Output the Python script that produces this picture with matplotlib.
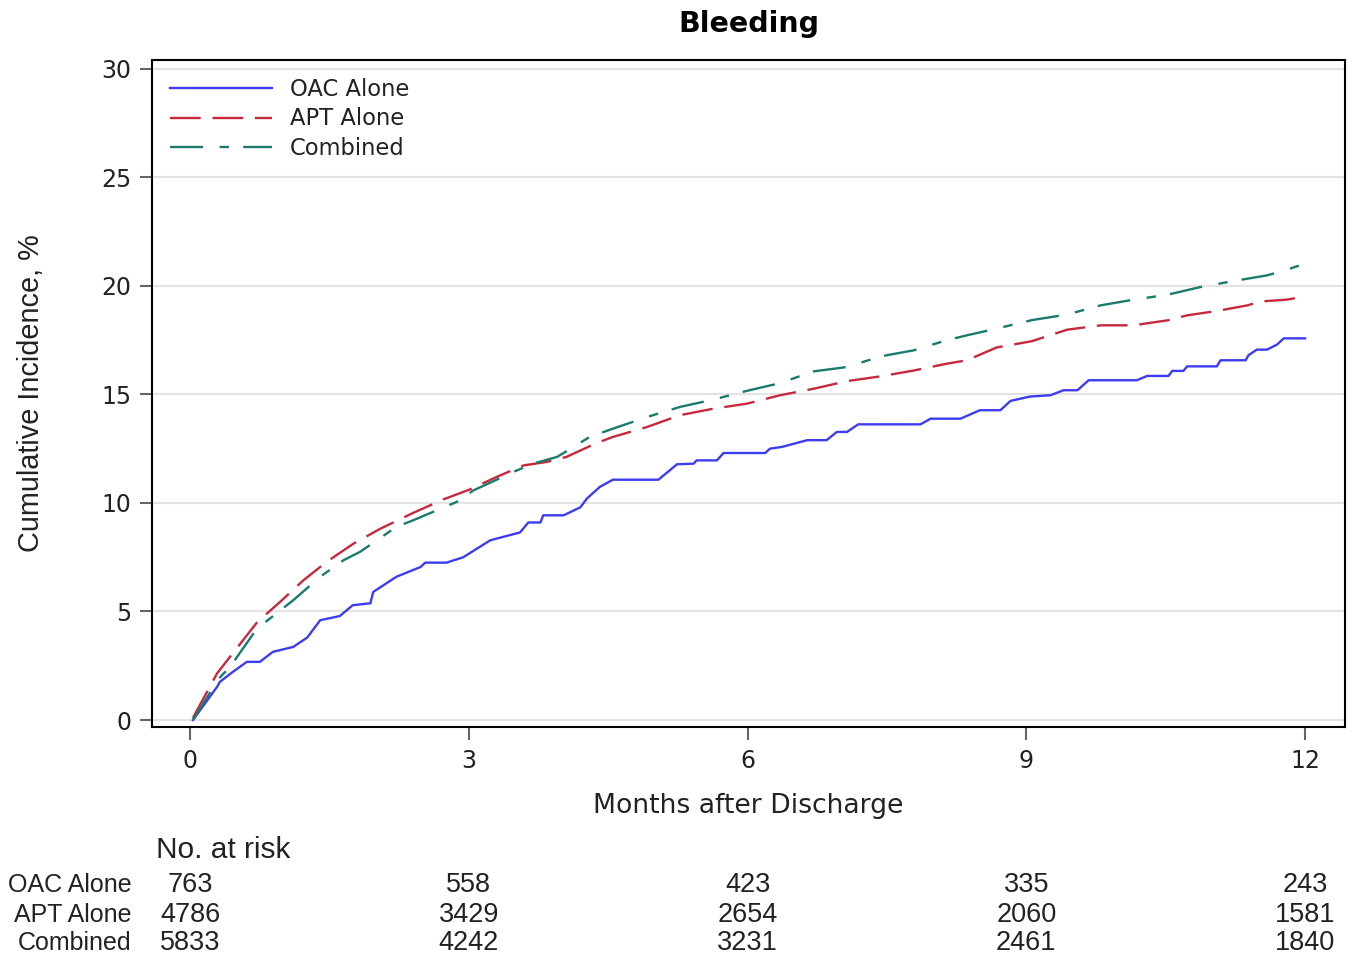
import matplotlib
matplotlib.use("Agg")
import matplotlib.pyplot as plt
import matplotlib.transforms as mtransforms

plt.rcParams['font.family'] = ['DejaVu Sans']
narrow = ['Liberation Sans', 'DejaVu Sans']

# cumulative incidence (%), months after discharge
oac_months = [0.03, 0.29, 0.32, 0.46, 0.61, 0.75, 0.89, 1.11, 1.26, 1.40, 1.61, 1.75,
              1.94, 1.97, 2.22, 2.48, 2.53, 2.76, 2.94, 3.23, 3.55, 3.64, 3.77, 3.80,
              4.02, 4.20, 4.27, 4.41, 4.55, 5.04, 5.24, 5.42, 5.45, 5.67, 5.74, 6.19,
              6.24, 6.37, 6.64, 6.85, 6.96, 7.07, 7.19, 7.86, 7.97, 8.29, 8.50, 8.72,
              8.83, 9.04, 9.26, 9.40, 9.55, 9.67, 10.19, 10.30, 10.53, 10.57, 10.69,
              10.73, 11.05, 11.09, 11.36, 11.39, 11.48, 11.59, 11.70, 11.77, 12.0]
oac_inc = [0, 1.53, 1.76, 2.22, 2.68, 2.68, 3.14, 3.37, 3.8, 4.6, 4.79, 5.29,
           5.38, 5.9, 6.6, 7.05, 7.25, 7.25, 7.5, 8.28, 8.64, 9.1, 9.1, 9.43,
           9.43, 9.8, 10.2, 10.74, 11.07, 11.07, 11.78, 11.81, 11.96, 11.96, 12.3, 12.3,
           12.5, 12.58, 12.89, 12.89, 13.27, 13.27, 13.62, 13.62, 13.88, 13.88, 14.27, 14.27,
           14.7, 14.9, 14.96, 15.19, 15.19, 15.65, 15.65, 15.85, 15.85, 16.08, 16.08,
           16.29, 16.29, 16.57, 16.57, 16.8, 17.06, 17.06, 17.3, 17.58, 17.58]

apt_months = [0.03, 0.29, 0.50, 0.72, 0.97, 1.22, 1.47, 1.76, 2.05, 2.40, 2.73, 3.01,
              3.30, 3.59, 3.84, 4.05, 4.36, 4.55, 4.92, 5.27, 5.63, 5.99, 6.35, 6.71,
              7.07, 7.43, 7.79, 8.14, 8.36, 8.68, 9.06, 9.44, 9.80, 10.15, 10.52, 10.73,
              11.05, 11.38, 11.52, 11.80, 12.0]
apt_inc = [0.1, 2.15, 3.3, 4.5, 5.45, 6.44, 7.29, 8.13, 8.82, 9.54, 10.17, 10.62,
           11.2, 11.73, 11.89, 12.12, 12.73, 13.04, 13.5, 14.04, 14.34, 14.57, 14.96, 15.26,
           15.61, 15.83, 16.1, 16.41, 16.57, 17.16, 17.45, 17.98, 18.18, 18.18, 18.41, 18.64,
           18.84, 19.1, 19.28, 19.36, 19.51]

comb_months = [0.03, 0.31, 0.43, 0.72, 0.86, 1.11, 1.40, 1.65, 1.83, 2.22, 2.40, 2.87,
               3.05, 3.48, 3.69, 3.95, 4.30, 4.55, 4.92, 5.27, 5.63, 5.99, 6.35, 6.71,
               7.07, 7.43, 7.79, 8.14, 8.36, 8.70, 9.06, 9.44, 9.80, 10.15, 10.52, 10.87,
               11.23, 11.59, 11.80, 12.0]
comb_inc = [0, 1.92, 2.45, 4.22, 4.68, 5.52, 6.6, 7.36, 7.75, 8.9, 9.2, 10.05,
            10.58, 11.43, 11.81, 12.12, 13.04, 13.42, 13.96, 14.42, 14.76, 15.16, 15.52, 16.06,
            16.26, 16.75, 17.03, 17.49, 17.72, 18.05, 18.42, 18.68, 19.1, 19.36, 19.59, 19.94,
            20.22, 20.48, 20.74, 21.02]

group_names = ['OAC Alone', 'APT Alone', 'Combined']
risk_months = [0, 3, 6, 9, 12]
risk_oac = [763, 558, 423, 335, 243]
risk_apt = [4786, 3429, 2654, 2060, 1581]
risk_comb = [5833, 4242, 3231, 2461, 1840]

fig = plt.figure(figsize=(13.54, 9.6), dpi=100)
ax = fig.add_axes([0.1123, 0.2427, 0.8811, 0.6948])

ax.plot(oac_months, oac_inc, color='#3c3cf0', lw=1.7, label=group_names[0])
ax.plot(apt_months, apt_inc, color='#c8283c', lw=1.7, dashes=(13, 5),
        label=group_names[1])
ax.plot(comb_months, comb_inc, color='#1a7a6e', lw=1.7, dashes=(14, 7, 4, 6),
        label=group_names[2])

ax.set_xlim(-0.41, 12.43)
ax.set_ylim(-0.32, 30.4)
ax.set_xticks([0, 3, 6, 9, 12])
ax.set_yticks([0, 5, 10, 15, 20, 25, 30])
ax.yaxis.grid(True, color='#e3e3e3', lw=1.5)
ax.set_axisbelow(True)
ax.tick_params(labelsize=17, length=9, width=1.5, color='#666666', pad=6,
               labelcolor='#222222')
ax.tick_params(axis='x', pad=7)
for s in ax.spines.values():
    s.set_linewidth(1.5)

ax.set_xlabel('Months after Discharge', fontsize=19.2, labelpad=14, color='#222222')
ax.set_ylabel('Cumulative Incidence, %', fontsize=20.8, labelpad=40, color='#222222',
              family=narrow)
fig.text(0.553, 0.975, 'Bleeding', ha='center', va='center', fontsize=20.5,
         fontweight='bold')

leg = ax.legend(loc='upper left', frameon=False, fontsize=16.3, handlelength=4.5,
                handletextpad=0.8, labelspacing=0.28, borderaxespad=0.4,
                borderpad=0.4)
for t in leg.get_texts():
    t.set_color('#222222')

# number at risk table
trans = mtransforms.blended_transform_factory(ax.transData, fig.transFigure)
fig.text(0.115, 0.115, 'No. at risk', fontsize=21.5, va='center', family=narrow,
         color='#222222')
rows = [risk_oac, risk_apt, risk_comb]
row_y = [0.078, 0.047, 0.018]
for name, vals, yy in zip(group_names, rows, row_y):
    fig.text(0.097, yy, name, fontsize=18, ha='right', va='center', family=narrow,
             color='#222222')
    for m, v in zip(risk_months, vals):
        ax.text(m, yy, str(v), transform=trans, fontsize=19.5, ha='center',
                va='center', family=narrow, color='#222222')

fig.savefig('out.png', dpi=100)
